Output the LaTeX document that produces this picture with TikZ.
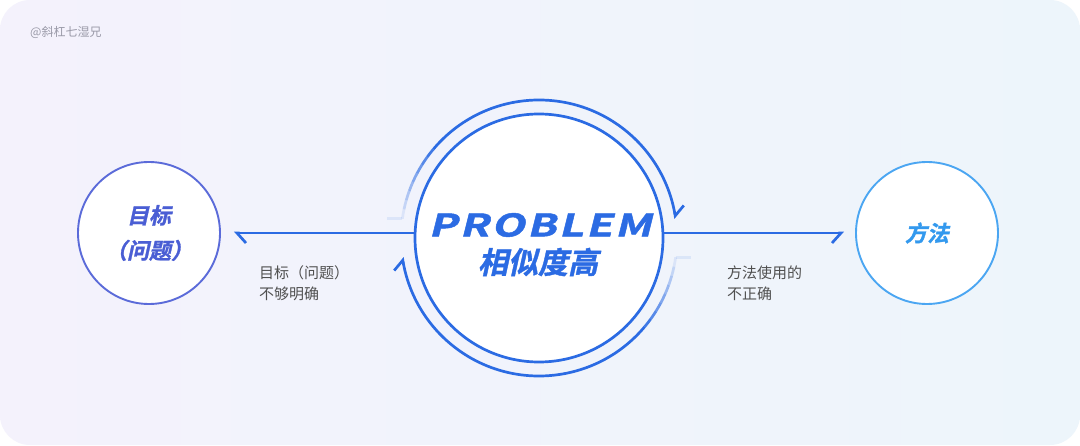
\documentclass[tikz,border=0pt]{standalone}
\usepackage{fontspec}
\usetikzlibrary{arrows.meta,bending,calc}
\newfontfamily\cjk{Noto Sans CJK SC}
\newfontfamily\cjkhead{Noto Sans CJK SC}[UprightFont=* Bold, FakeSlant=0.22, FakeBold=1.2]
\newfontfamily\probfont{Noto Sans CJK SC}[UprightFont=* Bold, FakeSlant=0.25, FakeStretch=1.4, FakeBold=1.5, LetterSpace=7]
\definecolor{probblue}{HTML}{2B6BE3}
\definecolor{goalblue}{HTML}{5B6BD9}
\definecolor{goaltext}{HTML}{4A5ED4}
\definecolor{methodblue}{HTML}{4BA6F2}
\definecolor{methodtext}{HTML}{3399EE}
\definecolor{notegray}{HTML}{505050}
\definecolor{markgray}{HTML}{9A9AA8}
\definecolor{bgleft}{HTML}{F4F2FC}
\definecolor{bgright}{HTML}{EDF5FB}
\begin{document}
\begin{tikzpicture}[x=1pt, y=1pt,
    harpL/.style={-{Straight Barb[harpoon, length=9pt, width=20pt]}},
    harpR/.style={-{Straight Barb[harpoon, swap, length=9pt, width=20pt]}},
    flow/.style={probblue, line width=2.7pt},
    ring/.style={probblue, line width=2.7pt},
    side/.style={circle, minimum size=142pt, inner sep=0pt, line width=1.9pt, fill=white, align=center},
    note/.style={text=notegray, align=left, font=\cjk\fontsize{15}{21}\selectfont, inner sep=0pt}]

    % Card behind everything
    \fill[white] (0,0) rectangle (1080,445);
    \shade[left color=bgleft, right color=bgright, rounded corners=30pt] (0,0) rectangle (1080,445);
    \useasboundingbox (0,0) rectangle (1080,445);
    \node[anchor=west, text=markgray, font=\cjk\fontsize{12}{14}\selectfont, inner sep=0pt] (mark) at (30,412) {@斜杠七湿兄};

    % Central problem circle
    \node[circle, draw=probblue, line width=2.7pt, fill=white, minimum size=248pt, inner sep=0pt] (problem) at (539,207) {};
    \node[text=probblue, font=\probfont\fontsize{31}{31}\selectfont, inner sep=0pt] (probtitle) at (540,220) {PROBLEM};
    \node[text=probblue, font=\cjkhead\fontsize{30}{30}\selectfont, inner sep=0pt] (probsub) at (538,183) {相似度高};

    % Goal and method circles
    \node[side, draw=goalblue, text=goaltext, font=\cjkhead\fontsize{22}{35}\selectfont] (goal) at (149,212) {目标\\（问题）};
    \node[side, draw=methodblue, text=methodtext, font=\cjkhead\fontsize{22}{26}\selectfont] (method) at (927,212) {方法};

    % Arrows out of the problem
    \draw[flow, harpL] (goal -| problem.west) -- ([xshift=13pt]goal.east);
    \draw[flow, harpR] (method -| problem.east) -- ([xshift=-11pt]method.west);
    \node[note, anchor=west] (goalnote) at (259,162) {目标（问题）\\不够明确};
    \node[note, anchor=west] (methodnote) at (727,162) {方法使用的\\不正确};

    % Turning arcs round the problem, faded at the tail
    \foreach \a [count=\i] in {172,168,...,144}
      \draw[ring, opacity=\i/9] ($(problem.center)+(\a:138pt)$) arc[start angle=\a, end angle=\a-4, radius=138pt];
    \draw[ring, opacity=0.1] ($(problem.center)+(172:138pt)$) -- ++(-15,0);
    \draw[ring, harpL] ($(problem.center)+(140:138pt)$) arc[start angle=140, end angle=8, radius=138pt];
    \foreach \a [count=\i] in {-8,-12,...,-36}
      \draw[ring, opacity=\i/9] ($(problem.center)+(\a:138pt)$) arc[start angle=\a, end angle=\a-4, radius=138pt];
    \draw[ring, opacity=0.1] ($(problem.center)+(-8:138pt)$) -- ++(15,0);
    \draw[ring, harpL] ($(problem.center)+(-40:138pt)$) arc[start angle=-40, end angle=-172, radius=138pt];
  \end{tikzpicture}
\end{document}
